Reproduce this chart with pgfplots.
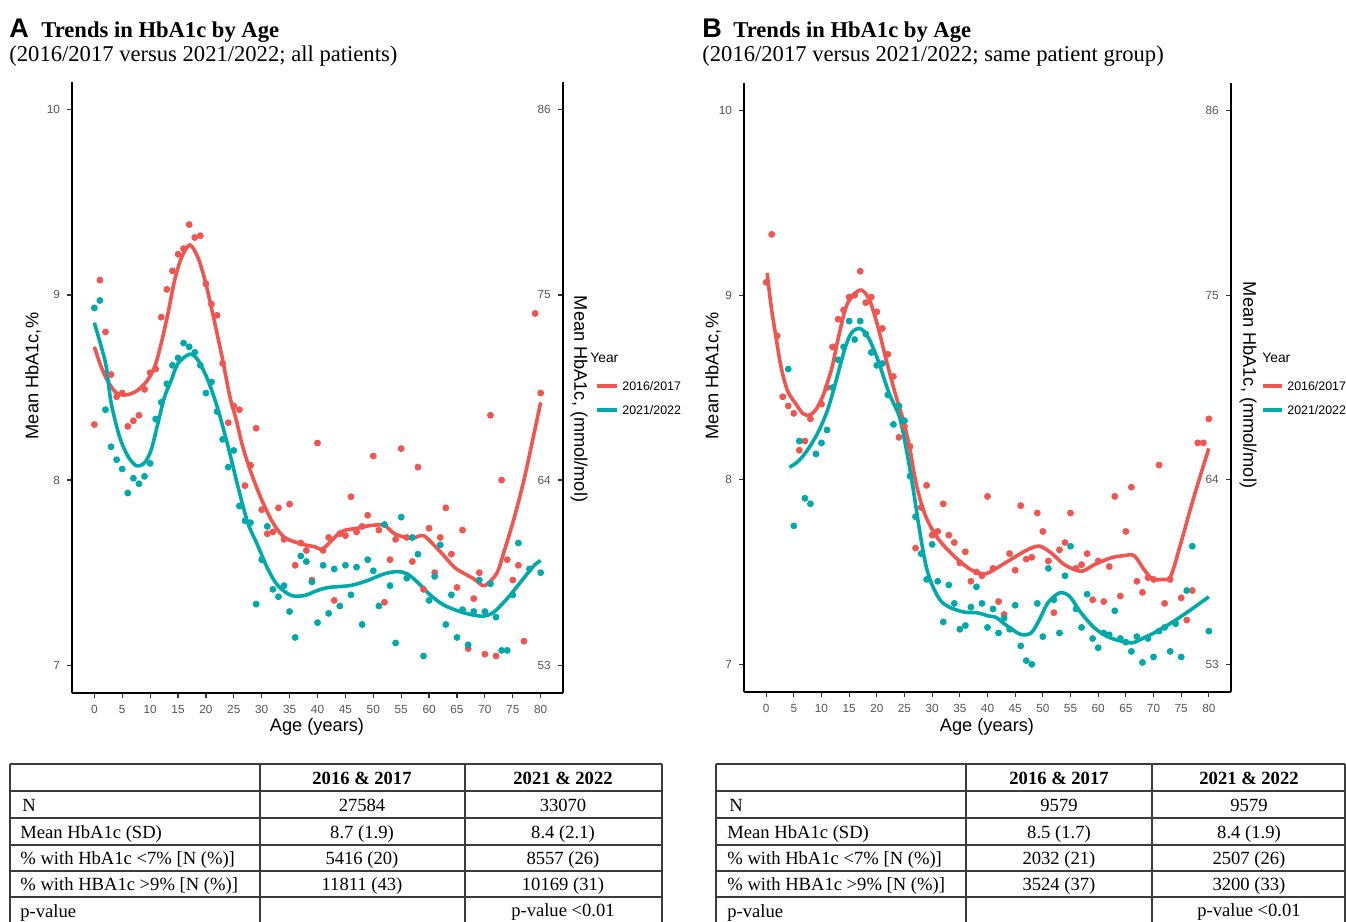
\documentclass[border=0pt]{standalone}
\usepackage{fontspec}
\setmainfont{Liberation Serif}
\setsansfont{Liberation Sans}
\usepackage{pgfplots}
\pgfplotsset{compat=1.18}
\definecolor{cr}{RGB}{240,85,80}
\definecolor{ct}{RGB}{0,170,170}
\definecolor{tk}{RGB}{85,85,85}
\definecolor{tl}{RGB}{60,60,60}
\pgfplotsset{
 hb/.style={scale only axis, anchor=south west, xmin=-4, xmax=84, clip=false,
  axis line style={line width=1.1pt, black, -}, x axis line style={-}, y axis line style={-},
  tick align=outside, major tick length=2.5pt,
  tick style={line width=0.6pt, black!80},
  tick label style={font=\sffamily\fontsize{5.9}{6}\selectfont, text=tk},
  /pgf/number format/assume math mode=true},
 main/.style={hb, axis x line*=bottom, axis y line*=left, ymin=6.85, ymax=10.15,
  xtick={0,5,...,80}, ytick={7,8,9,10}},
 sec/.style={hb, hide x axis, axis y line*=right, ymin=51.35, ymax=87.65,
  ytick={53,64,75,86}, tick align=inside, yticklabel style={anchor=east, xshift=-2.6pt}},
 pts/.style={only marks, mark=*, mark size=1.5pt},
 fit/.style={line width=1.8pt, smooth, no marks},
}
\begin{document}
\begin{tikzpicture}
\path[use as bounding box] (0,0) rectangle (673pt,-461pt);
% ---------------- Panel A ----------------
\begin{axis}[main, at={(36pt,-346.5pt)}, width=245.5pt, height=305.5pt]
\addplot[pts, cr] coordinates {
(0,8.30)(1,9.08)(2,8.80)(3,8.57)(4,8.45)(5,8.47)(6,8.29)(7,8.32)(8,8.35)(9,8.49)
(10,8.58)(11,8.60)(12,8.88)(13,9.03)(14,9.13)(15,9.22)(16,9.25)(17,9.38)(18,9.31)(19,9.32)
(20,9.06)(21,8.95)(22,8.89)(23,8.63)(24,8.31)(25,8.40)(26,8.38)(27,7.97)(28,8.08)(29,8.28)
(30,7.84)(31,7.71)(32,7.72)(33,7.85)(34,7.68)(35,7.87)(36,7.54)(37,7.66)(38,7.62)(39,7.46)
(40,8.20)(41,7.62)(42,7.69)(43,7.35)(44,7.71)(45,7.70)(46,7.91)(47,7.72)(48,7.75)(49,7.81)
(50,8.13)(51,7.73)(52,7.34)(53,7.57)(54,7.68)(55,8.17)(56,7.69)(57,7.56)(58,8.07)(59,7.41)
(60,7.74)(61,7.50)(62,7.69)(63,7.85)(64,7.60)(65,7.42)(66,7.73)(67,7.09)(68,7.36)(69,7.50)
(70,7.06)(71,8.35)(72,7.05)(73,8.00)(74,7.57)(75,7.46)(76,7.54)(77,7.13)(79,8.90)(80,8.47)};
\addplot[pts, ct] coordinates {
(0,8.93)(1,8.97)(2,8.38)(3,8.18)(4,8.11)(5,8.06)(6,7.93)(7,8.01)(8,7.98)(9,8.02)
(10,8.09)(11,8.33)(12,8.42)(13,8.52)(14,8.62)(15,8.66)(16,8.74)(17,8.72)(18,8.69)(19,8.62)
(20,8.47)(21,8.53)(22,8.37)(23,8.22)(24,8.07)(25,8.16)(26,7.86)(27,7.78)(28,7.77)(29,7.33)
(30,7.57)(31,7.75)(32,7.41)(33,7.37)(34,7.43)(35,7.29)(36,7.15)(37,7.59)(38,7.56)(39,7.45)
(40,7.23)(41,7.54)(42,7.28)(43,7.52)(44,7.32)(45,7.54)(46,7.38)(47,7.53)(48,7.22)(49,7.57)
(50,7.51)(51,7.32)(52,7.76)(53,7.43)(54,7.12)(55,7.80)(56,7.47)(57,7.69)(58,7.60)(59,7.05)
(60,7.35)(61,7.48)(62,7.65)(63,7.22)(64,7.38)(65,7.15)(66,7.30)(67,7.11)(68,7.29)(69,7.46)
(70,7.29)(71,7.44)(72,7.26)(73,7.08)(74,7.08)(75,7.38)(76,7.66)(78,7.52)(80,7.50)};
\addplot[fit, cr] coordinates {
(0,8.72)(1.25,8.61)(2.5,8.53)(4,8.47)(5.7,8.46)(7.5,8.48)(9.3,8.53)(10.8,8.61)(12,8.74)
(13.2,8.90)(14.4,9.08)(15.6,9.20)(17.1,9.27)(18.6,9.20)(20,9.06)(21.5,8.86)(23,8.65)(24.3,8.45)
(25.4,8.33)(26.6,8.18)(28.1,8.04)(29.9,7.90)(32,7.77)(34.1,7.69)(37.1,7.655)(39.5,7.64)(41,7.63)
(44.2,7.72)(47.2,7.74)(49.6,7.755)(52,7.755)(53.8,7.71)(56.7,7.685)(58.5,7.70)(59.5,7.69)
(62.1,7.61)(64.5,7.53)(66.3,7.495)(68.1,7.465)(69.6,7.43)(70.5,7.44)(72.2,7.50)(73.4,7.61)
(75.2,7.79)(77,8.00)(78.8,8.25)(80,8.42)};
\addplot[fit, ct] coordinates {
(0,8.85)(1.25,8.72)(2.15,8.61)(3,8.42)(4.5,8.236)(6,8.13)(7.5,8.078)(9,8.093)(10.2,8.164)
(11.4,8.307)(12.6,8.45)(13.8,8.54)(15,8.63)(17.1,8.68)(18.6,8.647)(20.35,8.54)(22.1,8.388)
(23.9,8.19)(25.7,7.97)(27.5,7.77)(29.3,7.646)(31.1,7.52)(32.9,7.43)(35.3,7.377)(37.7,7.377)
(40,7.404)(42,7.42)(46,7.431)(49,7.458)(51.9,7.493)(54.35,7.506)(56.1,7.493)(57.9,7.449)
(60.3,7.377)(62.7,7.324)(65.7,7.288)(68.1,7.27)(69.9,7.266)(71.65,7.288)(74,7.36)(76.4,7.449)
(78.8,7.538)(80,7.565)};
\end{axis}
\begin{axis}[sec, at={(36pt,-346.5pt)}, width=245.5pt, height=305.5pt]
\end{axis}
% ---------------- Panel B ----------------
\begin{axis}[main, at={(372pt,-346pt)}, width=243.5pt, height=304.5pt]
\addplot[pts, cr] coordinates {
(0,9.07)(1,9.33)(2,8.78)(3,8.45)(4,8.40)(5,8.36)(6,8.16)(7,8.21)(8,8.33)(10,8.41)
(11,8.50)(12,8.72)(13,8.87)(14,8.92)(15,8.99)(16,9.00)(17,9.13)(18,8.96)(19,8.99)
(20,8.91)(21,8.82)(22,8.68)(23,8.56)(24,8.23)(25,8.29)(26,8.18)(27,7.63)(28,7.85)(29,7.97)
(30,7.70)(31,7.72)(32,7.87)(33,7.70)(34,7.66)(35,7.55)(36,7.61)(37,7.45)(38,7.50)(39,7.48)
(40,7.91)(41,7.52)(42,7.34)(43,7.27)(44,7.60)(45,7.51)(46,7.86)(47,7.57)(48,7.58)(49,7.82)
(50,7.72)(51,7.56)(52,7.28)(53,7.62)(54,7.66)(55,7.82)(56,7.52)(57,7.54)(58,7.60)(59,7.35)
(60,7.56)(61,7.34)(62,7.53)(63,7.91)(64,7.37)(65,7.72)(66,7.96)(67,7.45)(68,7.39)(69,7.47)
(70,7.46)(71,8.08)(72,7.33)(73,7.46)(75,7.36)(76,7.24)(77,7.40)(78,8.20)(79,8.20)(80,8.33)};
\addplot[pts, ct] coordinates {
(4,8.60)(5,7.75)(6,8.21)(7,7.90)(8,7.87)(9,8.14)(10,8.20)(11,8.27)(12,8.50)(13,8.65)
(14,8.72)(15,8.86)(16,8.76)(17,8.86)(18,8.79)(19,8.69)(20,8.62)(21,8.63)(22,8.46)(23,8.30)
(24,8.40)(25,8.32)(26,8.02)(27,7.80)(28,7.60)(29,7.46)(30,7.65)(31,7.45)(32,7.23)(33,7.43)
(34,7.33)(35,7.19)(36,7.21)(37,7.31)(38,7.42)(39,7.33)(40,7.20)(41,7.30)(42,7.17)(43,7.25)
(44,7.19)(45,7.32)(46,7.10)(47,7.02)(48,7.00)(49,7.33)(50,7.15)(51,7.52)(52,7.35)(53,7.17)
(54,7.48)(55,7.64)(56,7.30)(57,7.20)(58,7.38)(59,7.14)(60,7.09)(61,7.17)(62,7.16)(63,7.29)
(64,7.14)(65,7.12)(66,7.07)(67,7.15)(68,7.01)(69,7.14)(70,7.04)(71,7.18)(72,7.20)(73,7.07)
(74,7.22)(75,7.04)(76,7.40)(77,7.64)(80,7.18)};
\addplot[fit, cr] coordinates {
(0.2,9.12)(0.9,8.94)(1.8,8.77)(2.7,8.61)(3.9,8.48)(5.4,8.41)(6.6,8.36)(7.8,8.35)(9,8.38)
(10.2,8.45)(11.1,8.53)(12,8.62)(12.95,8.757)(14.45,8.937)(16,9.009)(17.3,9.027)(18.7,8.973)
(20.2,8.829)(21.7,8.649)(23.3,8.47)(24.7,8.33)(25.9,8.18)(27.1,7.98)(28.6,7.82)(30.4,7.71)
(32.2,7.64)(34.6,7.568)(37,7.513)(39.4,7.49)(41.2,7.513)(44.2,7.568)(47.3,7.622)(49.4,7.64)
(51.5,7.604)(53.9,7.54)(56.9,7.504)(59.3,7.54)(62.3,7.577)(64.7,7.589)(66.5,7.589)(68.3,7.513)
(69.8,7.463)(71.6,7.46)(73.1,7.477)(74.95,7.658)(76.8,7.856)(78.6,8.036)(80,8.17)};
\addplot[fit, ct] coordinates {
(4.2,8.068)(5.4,8.09)(6.6,8.126)(8.1,8.19)(9.6,8.27)(11.1,8.378)(12.4,8.51)(14.15,8.703)
(15.35,8.793)(16.9,8.82)(18.4,8.775)(20.2,8.649)(22.2,8.47)(24.1,8.34)(25.3,8.17)(26.5,7.964)
(27.7,7.73)(28.9,7.532)(30.1,7.423)(31.6,7.342)(33.4,7.306)(35.8,7.283)(38.2,7.279)(40.3,7.261)
(41.5,7.255)(43.6,7.207)(46,7.162)(47.9,7.171)(49.4,7.243)(50.9,7.333)(53,7.387)(54.8,7.369)
(56.9,7.279)(59.3,7.198)(61.7,7.15)(64.1,7.126)(66.2,7.117)(68.3,7.144)(70.7,7.18)(73.7,7.234)
(76.8,7.297)(80,7.366)};
\end{axis}
\begin{axis}[sec, at={(372pt,-346pt)}, width=243.5pt, height=304.5pt]
\end{axis}
% ---------------- Text, legends, tables ----------------
\begin{scope}[x=0.5pt,y=-0.5pt]
\tikzset{ttl/.style={anchor=base west, inner sep=0, font=\bfseries\fontsize{11.3}{12}\selectfont},
 sub/.style={anchor=base west, inner sep=0, font=\fontsize{11.3}{12}\selectfont},
 let/.style={anchor=base west, inner sep=0, font=\sffamily\bfseries\fontsize{13.5}{14}\selectfont},
 alab/.style={inner sep=0, font=\sffamily\fontsize{9.1}{10}\selectfont},
 lgt/.style={anchor=west, inner sep=0, font=\sffamily\fontsize{6.9}{7}\selectfont},
 lge/.style={anchor=west, inner sep=0, font=\sffamily\fontsize{6.2}{7}\selectfont},
 tb/.style={anchor=base, inner sep=0, font=\fontsize{9.3}{10}\selectfont},
 tbb/.style={anchor=base, inner sep=0, font=\bfseries\fontsize{9.3}{10}\selectfont},
 tbl/.style={anchor=base west, inner sep=0, font=\fontsize{9.3}{10}\selectfont}}
% titles
\node[let] at (9,37) {A};
\node[ttl] at (41,37) {Trends in HbA1c by Age};
\node[sub] at (9,61) {(2016/2017 versus 2021/2022; all patients)};
\node[let] at (702,37) {B};
\node[ttl] at (733,37) {Trends in HbA1c by Age};
\node[sub] at (702,61) {(2016/2017 versus 2021/2022; same patient group)};
% axis labels
\node[alab, rotate=90] at (33,376) {Mean HbA1c,\%};
\node[alab, rotate=-90] at (579,399) {Mean HbA1c, (mmol/mol)};
\node[alab] at (317,727) {Age (years)};
\node[alab, rotate=90] at (713,376) {Mean HbA1c,\%};
\node[alab, rotate=-90] at (1248,385) {Mean HbA1c, (mmol/mol)};
\node[alab] at (987,727) {Age (years)};
% legends
\node[lgt] at (590,358) {Year};
\draw[cr, line width=2.2pt] (597,386) -- (617,386);
\node[lge] at (622,386) {2016/2017};
\draw[ct, line width=2.2pt] (597,410) -- (617,410);
\node[lge] at (622,410) {2021/2022};
\node[lgt] at (1262,358) {Year};
\draw[cr, line width=2.2pt] (1263,386) -- (1282,386);
\node[lge] at (1287,386) {2016/2017};
\draw[ct, line width=2.2pt] (1263,410) -- (1282,410);
\node[lge] at (1287,410) {2021/2022};
% table A
\begin{scope}[tl, line width=0.6pt]
\foreach \yy in {764,791,818,845,871,897} {\draw (10,\yy) -- (662,\yy);}
\foreach \xx in {10,260,465,662} {\draw (\xx,764) -- (\xx,935);}
\foreach \yy in {764,791,818,845,871,897} {\draw (716,\yy) -- (1345,\yy);}
\foreach \xx in {716,966,1152,1345} {\draw (\xx,764) -- (\xx,935);}
\end{scope}
\node[tbb] at (362,784) {2016 \& 2017};
\node[tbb] at (563,784) {2021 \& 2022};
\node[tbl] at (22,811) {N};
\node[tb] at (362,811) {27584};
\node[tb] at (563,811) {33070};
\node[tbl] at (20,838) {Mean HbA1c (SD)};
\node[tb] at (362,838) {8.7 (1.9)};
\node[tb] at (563,838) {8.4 (2.1)};
\node[tbl] at (20,864) {\% with HbA1c <7\% [N (\%)]};
\node[tb] at (362,864) {5416 (20)};
\node[tb] at (563,864) {8557 (26)};
\node[tbl] at (20,890) {\% with HBA1c >9\% [N (\%)]};
\node[tb] at (362,890) {11811 (43)};
\node[tb] at (563,890) {10169 (31)};
\node[tbl] at (20,917) {p-value};
\node[tb] at (563,916) {p-value <0.01};
% table B
\node[tbb] at (1059,784) {2016 \& 2017};
\node[tbb] at (1249,784) {2021 \& 2022};
\node[tbl] at (729,811) {N};
\node[tb] at (1059,811) {9579};
\node[tb] at (1249,811) {9579};
\node[tbl] at (727,838) {Mean HbA1c (SD)};
\node[tb] at (1059,838) {8.5 (1.7)};
\node[tb] at (1249,838) {8.4 (1.9)};
\node[tbl] at (727,864) {\% with HbA1c <7\% [N (\%)]};
\node[tb] at (1059,864) {2032 (21)};
\node[tb] at (1249,864) {2507 (26)};
\node[tbl] at (727,890) {\% with HBA1c >9\% [N (\%)]};
\node[tb] at (1059,890) {3524 (37)};
\node[tb] at (1249,890) {3200 (33)};
\node[tbl] at (727,917) {p-value};
\node[tb] at (1249,916) {p-value <0.01};
\end{scope}
\end{tikzpicture}
\end{document}
